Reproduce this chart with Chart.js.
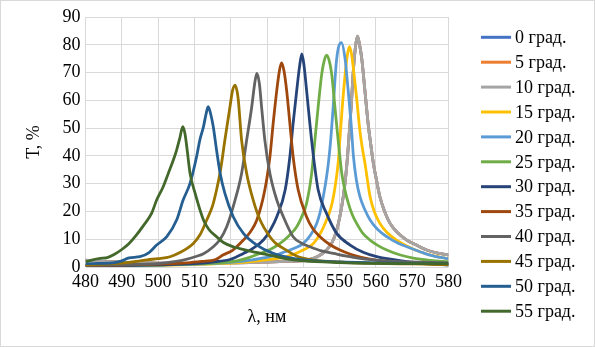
<!DOCTYPE html>
<html lang="ru">
<head>
<meta charset="utf-8">
<title>Спектры пропускания</title>
<script src="https://cdn.jsdelivr.net/npm/chart.js@4.4.0/dist/chart.umd.min.js"></script>
<style>
  html, body { margin: 0; padding: 0; background: #fff; }
  #box { width: 595px; height: 347px; }
</style>
</head>
<body>
<div id="box"><canvas id="spectra" width="595" height="347"></canvas></div>
<script>
// Оси
const wavelengthTicks = [480, 490, 500, 510, 520, 530, 540, 550, 560, 570, 580];
const transTicks = [0, 10, 20, 30, 40, 50, 60, 70, 80, 90];

// Подписи серий (угол падения) и цвета
const angleLabels = ['0 град.', '5 град.', '10 град.', '15 град.', '20 град.', '25 град.',
                     '30 град.', '35 град.', '40 град.', '45 град.', '50 град.', '55 град.'];
const seriesColors = ['#4472C4', '#ED7D31', '#A5A5A5', '#FFC000', '#5B9BD5', '#70AD47',
                      '#264478', '#9E480E', '#636363', '#997300', '#255E91', '#43682B'];

// 10 град. (0 и 5 град. совпадают с ней)
const wl10 = [480, 484, 488, 492, 496, 500, 505, 510, 515, 520, 525, 530, 535, 540.9, 544, 546.4, 548, 549.2, 550.2, 551, 551.6, 552.2, 552.7, 553.2, 553.8, 554.4, 554.9, 555.5, 556.1, 557, 557.9, 558.6, 559.3, 560.2, 561.1, 562.4, 563.9, 566, 568.5, 571, 574, 577, 580];
const t10  = [2.5, 2.1, 1.8, 1.6, 1.5, 1.4, 1.3, 1.3, 1.4, 1.5, 1.6, 1.8, 2.0, 2.5, 3.8, 6.1, 9.0, 13.3, 19.0, 25.3, 31.5, 40.0, 49.0, 58.0, 71.0, 79.5, 83.1, 80.0, 75.1, 63.1, 51.1, 44.0, 37.3, 31.0, 25.3, 20.0, 15.7, 12.3, 9.7, 8.0, 6.1, 5.0, 4.3];

const wl15 = [480, 490, 500, 510, 520, 528, 535.4, 539, 542.8, 545, 546.4, 547.5, 548.3, 549, 549.6, 550.2, 550.7, 551.5, 552.1, 552.7, 553.3, 553.8, 554.7, 555.6, 556.3, 557, 557.7, 558.4, 559.6, 561.1, 563, 565.7, 568.5, 572.1, 576, 580];
const t15  = [0.3, 0.4, 0.6, 0.9, 1.4, 2.3, 3.7, 5.5, 8.5, 12.8, 16.9, 20.8, 25.3, 31.0, 37.5, 48.0, 57.0, 69.0, 76.0, 79.3, 76.5, 71.5, 60.7, 49.0, 42.5, 37.3, 31.0, 25.3, 19.8, 15.7, 12.5, 9.7, 7.6, 5.5, 4.0, 3.0];

const wl20 = [480, 490, 500, 510, 520, 526, 530.8, 535, 538, 540, 542, 543.7, 544.7, 545.5, 546.3, 546.9, 547.5, 548.2, 549.2, 550.5, 551.5, 552.4, 553.2, 553.8, 554.6, 555.6, 557, 558.4, 560.5, 563, 566, 568.5, 572, 574.9, 580];
const t20  = [0.4, 0.5, 0.7, 1.0, 1.7, 2.6, 3.7, 5.5, 7.0, 8.5, 11.5, 15.7, 20.0, 25.3, 31.5, 37.3, 45.0, 57.0, 75.0, 80.8, 75.0, 63.0, 51.0, 40.0, 31.5, 25.3, 20.5, 16.9, 13.5, 10.9, 8.6, 7.3, 5.6, 4.3, 2.9];

const wl25 = [480, 490, 500, 510, 518, 522, 525, 528.1, 531, 533.6, 536, 538.2, 539.7, 540.9, 542.3, 543.2, 544.1, 545.1, 545.8, 546.4, 547.1, 547.8, 548.7, 549.6, 550.6, 551.5, 552.4, 553.5, 554.7, 556.3, 558.4, 560.5, 563, 566.5, 570.3, 575, 580];
const t25  = [0.4, 0.5, 0.7, 1.1, 1.6, 2.3, 3.4, 4.9, 6.4, 8.5, 11.2, 14.5, 18.5, 22.9, 33.7, 45.7, 57.7, 69.7, 74.5, 76.3, 74.5, 69.7, 57.7, 45.7, 33.7, 27.5, 23.0, 18.8, 15.7, 12.3, 9.7, 7.8, 6.1, 4.4, 3.2, 2.4, 1.9];

const wl30 = [480, 490, 500, 510, 515, 520, 523.5, 526, 529, 531, 532.7, 535, 536.3, 537.2, 538.2, 539, 539.6, 540.2, 540.9, 541.8, 542.8, 544.1, 546.4, 549.2, 552.9, 556.5, 560.2, 564, 568.5, 574, 580];
const t30  = [0.4, 0.5, 0.8, 1.2, 1.8, 2.8, 4.9, 6.6, 9.7, 13.5, 18.1, 27.7, 39.7, 51.7, 63.7, 72.5, 76.7, 72.5, 63.7, 51.7, 39.7, 27.7, 19.3, 12.1, 7.9, 5.3, 3.7, 2.8, 1.9, 1.2, 0.7];

const wl35 = [480, 490, 500, 508, 512, 515.7, 518, 520.5, 523.5, 525.5, 527.2, 529.4, 530.8, 531.7, 532.7, 533.4, 534, 534.7, 535.4, 536.3, 537.2, 538.6, 540.9, 542.5, 544.6, 547.4, 550.1, 553, 556, 560, 566, 573, 580];
const t35  = [0.5, 0.7, 1.0, 1.5, 2.0, 2.6, 4.4, 6.0, 9.7, 12.8, 16.9, 27.7, 39.7, 51.7, 63.7, 70.5, 73.5, 70.5, 63.7, 51.7, 39.7, 27.7, 18.1, 14.0, 10.9, 8.0, 6.1, 4.6, 3.5, 2.5, 1.7, 1.2, 0.9];

const wl40 = [480, 490, 500, 505, 508, 510.2, 512.5, 515.2, 517, 518.9, 521.2, 523, 524.4, 525.8, 526.6, 527.2, 527.9, 528.5, 529.4, 530.8, 532.7, 534.5, 537.2, 539.5, 541.8, 545, 548.3, 552, 557, 565, 580];
const t40  = [0.6, 0.8, 1.2, 2.0, 2.8, 3.7, 4.8, 7.3, 9.8, 14.5, 24.1, 33.7, 45.7, 57.7, 66.0, 69.7, 66.0, 57.7, 45.7, 33.7, 24.1, 18.1, 10.9, 8.6, 7.3, 5.8, 4.9, 3.9, 2.8, 2.0, 1.5];

const wl45 = [480, 485, 490, 494, 497, 500, 503.3, 506, 509.7, 511.5, 513.4, 515, 516.1, 517.2, 518.4, 519.8, 520.5, 521.2, 521.8, 522.1, 523, 524.4, 526.2, 528.1, 530.8, 532.5, 534.5, 538.6, 543, 550, 560, 570, 580];
const t45  = [0.8, 1.0, 1.4, 2.0, 2.6, 3.0, 3.7, 5.2, 8.5, 11.5, 16.9, 22.0, 27.7, 34.9, 45.7, 57.7, 63.5, 65.5, 63.0, 60.1, 45.7, 33.7, 24.1, 16.9, 10.9, 8.4, 6.7, 3.7, 2.5, 1.8, 1.3, 1.1, 0.9];

const wl50 = [480, 484, 488, 490, 492, 495, 497.5, 499.6, 502.4, 505.1, 506.9, 508.8, 510.6, 511.5, 512.5, 513.2, 513.8, 514.5, 515.2, 516.1, 517.1, 518.4, 520.7, 523.5, 527.2, 531.7, 536, 540, 550, 560, 570, 580];
const t50  = [1.2, 1.3, 1.6, 2.2, 3.3, 3.7, 5.2, 7.9, 10.9, 16.9, 24.1, 30.1, 39.7, 45.7, 50.5, 55.0, 57.7, 55.0, 50.5, 42.1, 33.7, 26.5, 18.1, 12.1, 7.9, 4.9, 3.4, 2.6, 1.8, 1.5, 1.3, 1.2];

const wl55 = [480, 482, 484, 486, 488, 490, 492, 494, 496, 498.2, 499.6, 501.4, 502.8, 504.2, 505.1, 506, 506.8, 507.4, 507.9, 508.8, 510.2, 512.5, 514, 516.1, 518, 520.7, 524.5, 528, 531, 535, 540, 550, 560, 570, 580];
const t55  = [1.9, 2.6, 3.1, 3.4, 4.6, 6.3, 8.5, 11.5, 15.0, 19.3, 24.1, 28.9, 33.7, 38.5, 42.1, 46.5, 50.5, 48.0, 43.3, 33.7, 26.5, 16.9, 13.5, 10.9, 8.8, 7.3, 6.0, 5.0, 4.2, 3.0, 2.2, 1.6, 1.3, 1.2, 1.2];

const seriesWl = [wl10, wl10, wl10, wl15, wl20, wl25, wl30, wl35, wl40, wl45, wl50, wl55];
const seriesT  = [t10, t10, t10, t15, t20, t25, t30, t35, t40, t45, t50, t55];

const FONT = '"Liberation Serif", "Times New Roman", serif';

function toPoints(xs, ys) {
    return xs.map((x, i) => ({ x: x, y: ys[i] }));
}

// белый фон и рамка вокруг всей диаграммы
const chartFrame = {
    id: 'chartFrame',
    beforeDraw(chart) {
        const ctx = chart.ctx;
        ctx.save();
        ctx.fillStyle = '#ffffff';
        ctx.fillRect(0, 0, chart.width, chart.height);
        ctx.strokeStyle = '#d9d9d9';
        ctx.lineWidth = 1;
        ctx.strokeRect(0.5, 0.5, chart.width - 1, chart.height - 1);
        ctx.restore();
    }
};

// легенда справа, столбиком
const sideLegend = {
    id: 'sideLegend',
    afterDraw(chart) {
        const ctx = chart.ctx;
        ctx.save();
        ctx.font = '18px ' + FONT;
        ctx.textBaseline = 'middle';
        ctx.textAlign = 'left';
        chart.data.datasets.forEach((ds, i) => {
            const y = 37.3 + i * 24.9;
            ctx.strokeStyle = ds.borderColor;
            ctx.lineWidth = 3;
            ctx.beginPath();
            ctx.moveTo(481, y);
            ctx.lineTo(511, y);
            ctx.stroke();
            ctx.fillStyle = '#000000';
            ctx.fillText(ds.label, 515, y + 1);
        });
        ctx.restore();
    }
};

const datasets = angleLabels.map((label, i) => ({
    label: label,
    data: toPoints(seriesWl[i], seriesT[i]),
    borderColor: seriesColors[i],
    backgroundColor: seriesColors[i],
    borderWidth: 2.8,
    pointRadius: 0,
    fill: false,
    cubicInterpolationMode: 'monotone',
    order: angleLabels.length - i
}));

new Chart(document.getElementById('spectra'), {
    type: 'line',
    data: { datasets: datasets },
    options: {
        responsive: false,
        animation: false,
        events: [],
        layout: { padding: { top: 17, right: 146.5, bottom: 0, left: 0 } },
        plugins: {
            legend: { display: false },
            tooltip: { enabled: false }
        },
        scales: {
            x: {
                type: 'linear',
                min: wavelengthTicks[0],
                max: wavelengthTicks[wavelengthTicks.length - 1],
                ticks: {
                    stepSize: wavelengthTicks[1] - wavelengthTicks[0],
                    color: '#000',
                    font: { family: FONT, size: 18 },
                    padding: 4,
                    maxRotation: 0
                },
                grid: { color: '#d9d9d9', drawTicks: false },
                border: { display: false },
                title: {
                    display: true,
                    text: 'λ, нм',
                    color: '#000',
                    font: { family: FONT, size: 18 },
                    padding: { top: 0, bottom: 19 }
                },
                afterFit(scale) { scale.height = 80; }
            },
            y: {
                min: transTicks[0],
                max: transTicks[transTicks.length - 1],
                ticks: {
                    stepSize: transTicks[1] - transTicks[0],
                    color: '#000',
                    font: { family: FONT, size: 18 },
                    padding: 5
                },
                grid: { color: '#d9d9d9', drawTicks: false },
                border: { display: false },
                title: {
                    display: true,
                    text: 'T, %',
                    color: '#000',
                    font: { family: FONT, size: 18 },
                    padding: { top: 23, bottom: 0 }
                },
                afterFit(scale) { scale.width = 85.5; }
            }
        }
    },
    plugins: [chartFrame, sideLegend]
});
</script>
</body>
</html>
